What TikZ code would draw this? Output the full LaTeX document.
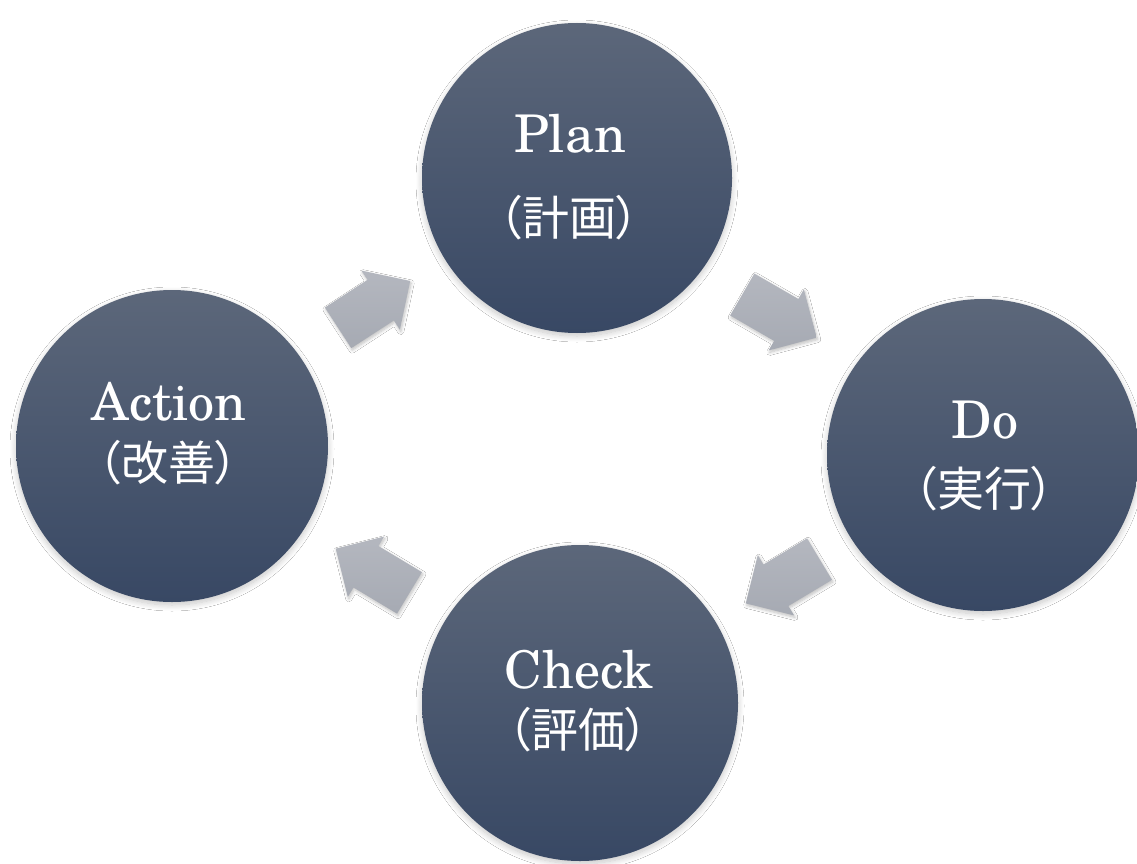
\documentclass[tikz,border=0pt]{standalone}
\usepackage{fontspec}
\newfontfamily\latfont{TeX Gyre Schola}
\newfontfamily\jpfont[RawFeature=+palt]{Noto Sans CJK JP}
\usetikzlibrary{shapes.arrows,shadows.blur}
\definecolor{ctop}{RGB}{92,103,122}
\definecolor{cbot}{RGB}{56,72,100}
\definecolor{agray}{RGB}{166,170,179}
\definecolor{agrayl}{RGB}{180,183,191}
\tikzset{
  phase/.style={circle, draw=none, top color=ctop, bottom color=cbot, inner sep=0pt,
    blur shadow={shadow xshift=0pt, shadow yshift=-3pt, shadow blur radius=6pt, shadow opacity=22, shadow blur steps=12}},
  blockarrow/.style={single arrow, draw=none, top color=agrayl, bottom color=agray,
    minimum height=86pt, inner xsep=0pt, inner ysep=24pt, single arrow head extend=11pt,
    single arrow tip angle=90,
    blur shadow={shadow xshift=1pt, shadow yshift=-2pt, shadow blur radius=3pt, shadow opacity=25, shadow blur steps=6}},
  lat/.style={text=white, font=\fontsize{52}{60}\selectfont\latfont, anchor=base, inner sep=0pt},
  jp/.style={text=white, font=\fontsize{47}{52}\selectfont\jpfont, anchor=center, inner sep=0pt}
}
\begin{document}
\begin{tikzpicture}[x=1pt,y=-1pt]
\useasboundingbox (0,0) rectangle (1137,864);
\fill[white] (0,0) rectangle (1137,864);
% circles
\node[phase, minimum size=310pt] (plan) at (577,178) {};
\node[phase, minimum size=312pt] (do) at (983,455) {};
\node[phase, minimum size=316pt] (check) at (580,703) {};
\node[phase, minimum size=312pt] (action) at (172,446) {};
% texts
\node[lat] (plant) at (570,153) {Plan};
\node[jp] (planj) at (569,218) {（計画）};
\node[lat] (actiont) at (169,420) {Action};
\node[jp] (actionj) at (168,463) {（改善）};
\node[lat] (dot) at (985,438) {Do};
\node[jp] (doj) at (984,489) {（実行）};
\node[lat] (checkt) at (579,688) {Check};
\node[jp] (checkj) at (578,730) {（評価）};
% block arrows
\node[blockarrow, rotate=33] (a1) at (364,311) {};
\node[blockarrow, rotate=-30] (a2) at (769,310) {};
\node[blockarrow, rotate=211] (a3) at (793,575) {};
\node[blockarrow, rotate=149] (a4) at (383,577) {};
\end{tikzpicture}
\end{document}
